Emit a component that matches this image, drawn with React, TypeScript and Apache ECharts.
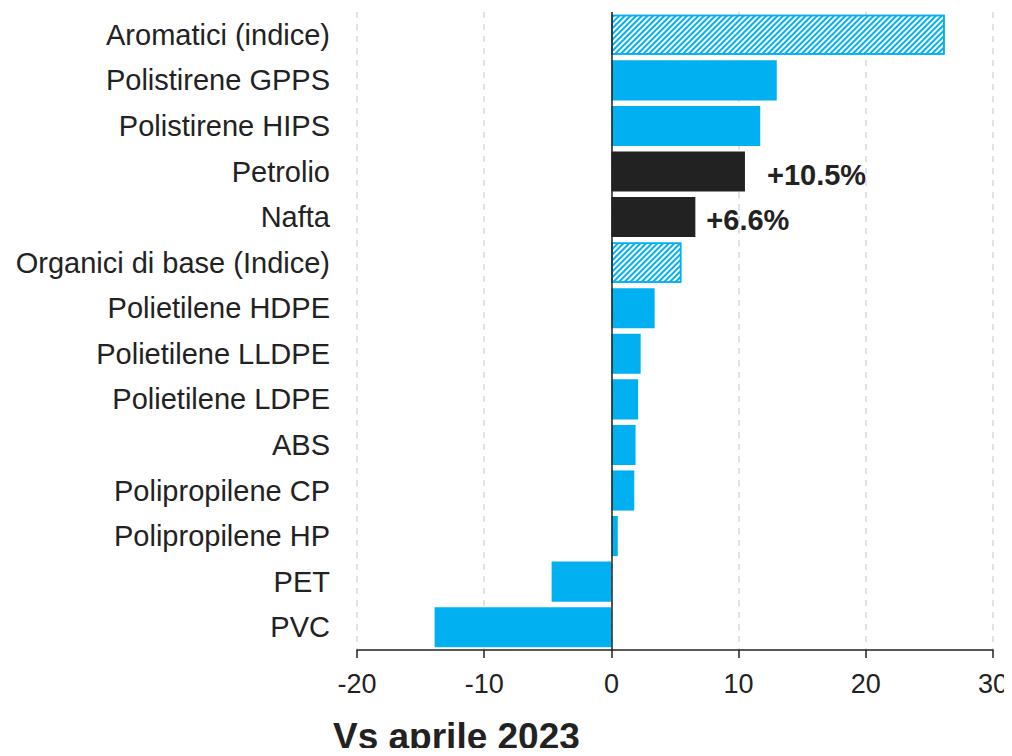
import React, { useEffect, useRef } from "react";
import * as echarts from "echarts";

const categories = [
  "Aromatici (indice)",
  "Polistirene GPPS",
  "Polistirene HIPS",
  "Petrolio",
  "Nafta",
  "Organici di base (Indice)",
  "Polietilene HDPE",
  "Polietilene LLDPE",
  "Polietilene LDPE",
  "ABS",
  "Polipropilene CP",
  "Polipropilene HP",
  "PET",
  "PVC",
];
const values = [26.2, 13.0, 11.7, 10.5, 6.6, 5.5, 3.4, 2.3, 2.1, 1.9, 1.8, 0.5, -4.7, -13.9];
const kinds = ["hatch", "solid", "solid", "dark", "dark", "hatch", "solid", "solid", "solid", "solid", "solid", "solid", "solid", "solid"];
const pctLabels = ["", "", "", "+10.5%", "+6.6%", "", "", "", "", "", "", "", "", ""];
const xTicks = [-20, -10, 0, 10, 20, 30];
const titleText = "Vs aprile 2023";

const BLUE = "#00b0f0";
const DARK = "#222222";
const FONT = "Liberation Sans, Arial, sans-serif";

export default function App() {
  const ref = useRef<HTMLDivElement>(null);
  useEffect(() => {
    if (!ref.current) return;
    const chart = echarts.init(ref.current, undefined, { renderer: "svg" });
    const data = values.map((v, i) => {
      const k = kinds[i];
      const item: any = { value: v };
      if (k === "hatch") {
        item.itemStyle = {
          color: "#ffffff",
          borderColor: BLUE,
          borderWidth: 1.5,
          decal: {
            symbol: "rect",
            color: BLUE,
            backgroundColor: "#ffffff",
            dashArrayX: [1, 0],
            dashArrayY: [1.5, 1.5],
            rotation: -Math.PI / 4,
            symbolSize: 1,
          },
        };
      } else if (k === "dark") {
        item.itemStyle = { color: DARK };
      } else {
        item.itemStyle = { color: BLUE };
      }
      if (pctLabels[i]) {
        item.label = {
          show: true,
          position: "right",
          distance: i === 3 ? 22 : 11,
          offset: [0, 3],
          formatter: pctLabels[i],
          fontFamily: FONT,
          fontWeight: "bold",
          fontSize: 29,
          color: DARK,
        };
      }
      return item;
    });
    chart.setOption({
      animation: false,
      aria: { enabled: false, decal: { show: false } },
      title: {
        text: titleText,
        left: 328,
        top: 713,
        textStyle: { fontFamily: FONT, fontWeight: "bold", fontSize: 37, color: DARK },
      },
      grid: { left: 357, right: 19, top: 12, bottom: 106, containLabel: false },
      xAxis: {
        type: "value",
        min: xTicks[0],
        max: xTicks[xTicks.length - 1],
        interval: 10,
        axisLine: { show: true, onZero: false, lineStyle: { color: DARK, width: 1.5 } },
        axisTick: { show: true, length: 8, lineStyle: { color: DARK, width: 1.5 } },
        axisLabel: { fontFamily: FONT, fontSize: 27, color: DARK, margin: 20 },
        splitLine: { show: true, lineStyle: { color: "#d9d9d9", type: [6, 6], width: 1.5 } },
      },
      yAxis: {
        type: "category",
        data: categories,
        inverse: true,
        axisLine: { show: false, onZero: false },
        axisTick: { show: false },
        axisLabel: { fontFamily: FONT, fontSize: 29, color: DARK, margin: 27 },
        splitLine: { show: false },
      },
      series: [
        {
          type: "bar",
          data,
          barCategoryGap: "12%",
          markLine: {
            silent: true,
            symbol: "none",
            label: { show: false },
            lineStyle: { color: DARK, type: "solid", width: 1.5 },
            data: [{ xAxis: 0 }],
          },
        },
      ],
    });
    return () => chart.dispose();
  }, []);
  return <div ref={ref} style={{ width: 1012, height: 756, margin: -8 }} />;
}
